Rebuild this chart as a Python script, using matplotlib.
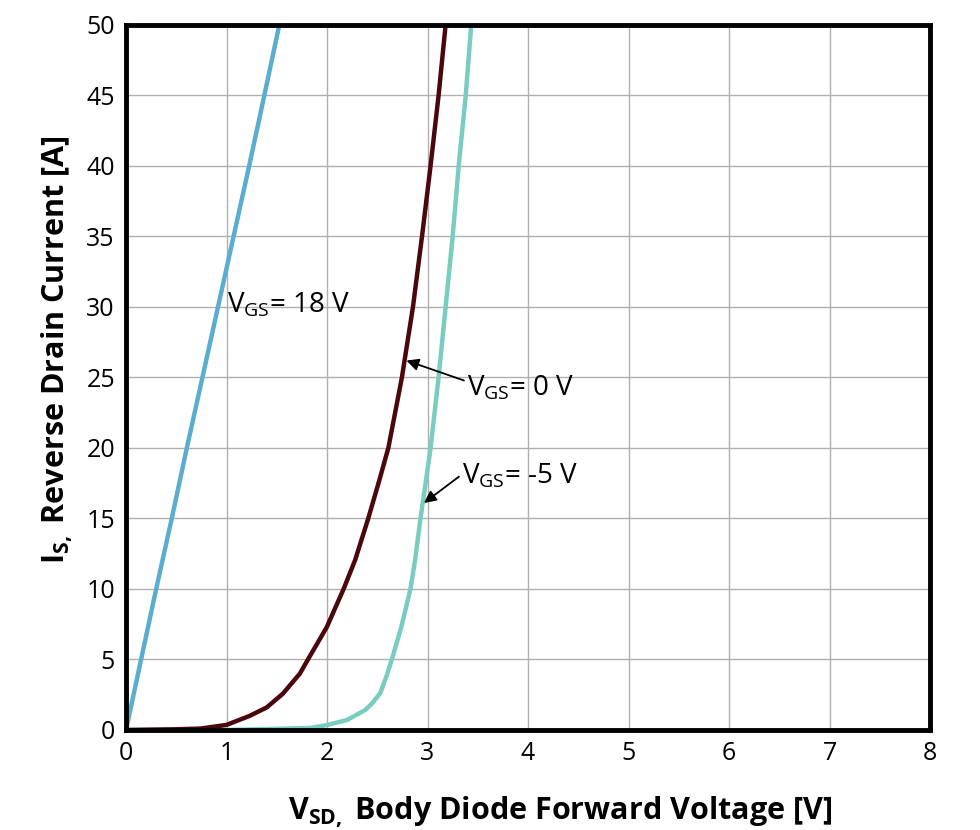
import numpy as np
import matplotlib
matplotlib.use("Agg")
import matplotlib.pyplot as plt

plt.rcParams["font.family"] = ["Open Sans", "DejaVu Sans"]
plt.rcParams["mathtext.fontset"] = "custom"
plt.rcParams["mathtext.rm"] = "Open Sans"
plt.rcParams["mathtext.bf"] = "Open Sans:bold"
plt.rcParams["mathtext.it"] = "Open Sans:italic"

# V_GS = 18 V
v_18 = [0, 0.15, 0.30, 0.455, 0.605, 0.76, 0.915, 1.07, 1.225, 1.376, 1.525]
i_18 = [0, 5, 10, 15, 20, 25, 30, 35, 40, 45, 50]

# V_GS = 0 V
v_0 = [0, 0.5, 0.74, 1.0, 1.23, 1.40, 1.56, 1.73, 1.81, 1.9, 2.0, 2.165, 2.28, 2.41, 2.52, 2.61,
       2.745, 2.855, 2.945, 3.03, 3.11, 3.18]
i_0 = [0, 0.05, 0.1, 0.36, 1.0, 1.6, 2.57, 4.0, 5, 6.1, 7.33, 10, 12.06, 15, 17.7, 20,
       25, 30, 35, 40, 45, 50]

# V_GS = -5 V
v_m5 = [0, 1.0, 1.83, 2.0, 2.2, 2.38, 2.45, 2.53, 2.59, 2.645, 2.74, 2.83, 2.875, 2.93, 2.985, 3.03,
        3.11, 3.18, 3.25, 3.31, 3.38, 3.435]
i_m5 = [0, 0, 0.14, 0.35, 0.71, 1.42, 1.9, 2.62, 3.78, 5, 7.33, 10, 12, 15, 17.7, 20,
        25, 30, 35, 40, 45, 50]

x_ticks = np.arange(0, 9, 1)
y_ticks = np.arange(0, 55, 5)

fig = plt.figure(figsize=(9.8, 8.3), dpi=100)
ax = fig.add_axes([0.1286, 0.1205, 0.949 - 0.1286, 0.9699 - 0.1205])

line_kw = dict(lw=3.2, solid_capstyle="butt", solid_joinstyle="round")
ax.plot(v_18, i_18, color="#5BADD0", **line_kw)
ax.plot(v_m5, i_m5, color="#79CDBF", **line_kw)
ax.plot(v_0, i_0, color="#4A070D", **line_kw)

ax.set_xlim(0, 8)
ax.set_ylim(0, 50)
ax.set_xticks(x_ticks)
ax.set_yticks(y_ticks)
ax.grid(True, color="#b0b0b0", lw=1.0)
ax.set_axisbelow(True)
ax.tick_params(length=0, labelsize=18, pad=8)
for s in ax.spines.values():
    s.set_linewidth(3.5)
    s.set_color("black")

ax.set_xlabel(r"$\mathbf{V_{SD,}}$ Body Diode Forward Voltage [V]", fontsize=22, fontweight="bold")
ax.set_ylabel(r"$\mathbf{I_{S,}}$ Reverse Drain Current [A]", fontsize=22, fontweight="bold")
ax.xaxis.set_label_coords(0.54, -0.092)
ax.yaxis.set_label_coords(-0.064, 0.54)

ax.text(1.0, 29.6, r"$\mathrm{V_{GS}}$= 18 V", fontsize=20, va="baseline", ha="left")
ax.annotate(r"$\mathrm{V_{GS}}$= 0 V", xy=(2.79, 26.2), xytext=(3.39, 23.7),
            fontsize=20, va="baseline", ha="left",
            arrowprops=dict(arrowstyle="-|>", color="black", lw=1.3, mutation_scale=18,
                            shrinkA=0, shrinkB=0, relpos=(0, 0.75)))
ax.annotate(r"$\mathrm{V_{GS}}$= -5 V", xy=(2.965, 16.1), xytext=(3.34, 17.5),
            fontsize=20, va="baseline", ha="left",
            arrowprops=dict(arrowstyle="-|>", color="black", lw=1.3, mutation_scale=18,
                            shrinkA=0, shrinkB=0, relpos=(0, 0.55)))

fig.savefig("out.png", dpi=100)
